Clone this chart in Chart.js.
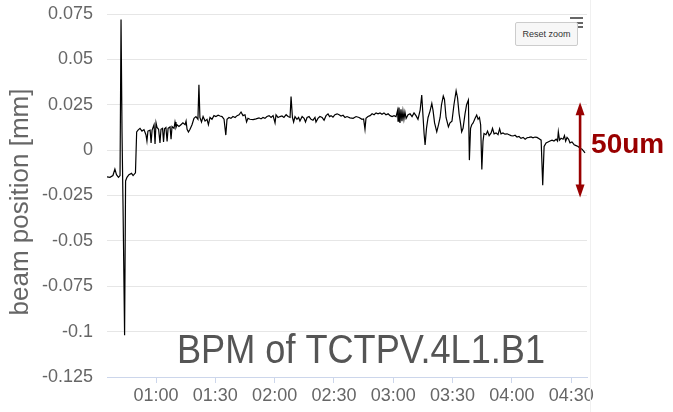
<!DOCTYPE html>
<html><head><meta charset="utf-8">
<script src="https://cdn.jsdelivr.net/npm/chart.js@4"></script>
<style>
html,body{margin:0;padding:0;background:#fff;}
#wrap{position:relative;width:673px;height:412px;}
#vline{position:absolute;left:590px;top:0;width:1px;height:412px;background:#f0f0f0;}
#menu{position:absolute;left:570px;top:17px;width:13px;height:12px;}
#menu span{position:absolute;left:0;width:13px;height:2px;background:#666;}
#btn{position:absolute;left:515px;top:22px;width:63px;height:24px;box-sizing:border-box;background:#f7f7f7;border:1px solid #cccccc;border-radius:2px;font:9px "Liberation Sans",Arial,sans-serif;color:#333;text-align:center;line-height:22px;}
</style></head>
<body>
<div id="wrap">
<canvas id="c"></canvas>
<div id="vline"></div>
<div id="menu"><span style="top:0"></span><span style="top:4.5px"></span><span style="top:9px"></span></div>
<div id="btn">Reset zoom</div>
</div>
<script>
const times = [35.2,36.7,38.2,39.2,40.0,41.0,41.8,42.3,42.8,43.3,44.1,44.6,45.3,46.3,47.6,48.4,49.6,50.2,50.9,51.9,52.9,53.9,54.9,55.4,55.9,57.0,57.5,58.0,59.0,59.5,60.0,60.5,61.3,62.0,62.5,63.3,63.8,64.3,65.0,65.6,66.1,67.1,67.6,68.1,69.1,69.6,70.1,70.6,71.6,72.6,73.6,74.7,75.2,75.7,76.4,77.2,78.2,79.2,80.2,81.2,81.7,82.2,83.0,83.8,84.8,85.8,86.5,87.3,88.3,89.3,90.3,91.4,92.4,93.4,94.4,95.3,95.9,96.9,97.9,98.9,100.0,101.0,102.0,103.0,104.0,105.0,105.8,106.5,107.5,109.1,110.6,112.1,113.1,114.1,115.1,116.1,117.2,118.2,119.2,120.2,120.7,121.7,122.7,123.7,124.7,125.8,126.8,127.8,128.3,129.0,129.6,130.3,131.3,132.1,132.8,133.9,134.9,135.6,136.4,137.4,138.4,139.4,140.4,140.9,141.9,142.9,144.0,145.0,146.0,147.0,147.8,148.5,149.5,150.5,151.6,152.6,153.6,154.6,155.6,156.6,158.1,159.7,161.2,162.7,164.2,165.0,165.7,166.2,167.2,168.3,169.3,170.3,171.3,172.3,173.3,174.3,175.3,176.3,177.4,178.4,179.4,180.4,181.4,182.2,182.4,182.9,183.4,183.9,184.4,184.9,185.4,185.9,186.5,187.5,188.5,189.5,190.5,191.5,192.5,193.6,194.4,195.1,195.6,196.1,196.8,197.6,198.6,199.5,200.1,200.9,202.0,202.9,203.7,204.4,205.3,205.9,206.7,207.9,208.7,209.7,210.7,211.8,212.5,213.3,214.0,214.6,215.3,216.3,217.1,218.0,218.5,219.1,219.7,220.4,221.4,222.2,222.9,223.6,224.2,224.8,225.4,225.9,226.9,227.7,228.5,229.5,230.2,231.0,232.0,233.0,233.8,234.5,235.5,236.5,237.6,238.6,239.6,240.6,241.6,242.6,243.6,244.6,245.7,246.7,247.7,248.7,249.7,250.7,251.7,252.7,253.8,254.8,255.6,256.3,257.3,258.3,259.3,260.3,261.3,262.4,263.1,263.5,264.1,264.9,265.9,266.6,267.2,267.9,268.7,269.4,270.4,271.5,272.5,273.5,274.5,275.5,277.0];
const positions = [-0.0147,-0.0150,-0.0140,-0.0105,-0.0135,-0.0150,-0.0140,0.0720,0.0100,-0.0300,-0.1020,-0.0170,-0.0150,-0.0135,-0.0128,-0.0140,-0.0125,0.0100,0.0110,0.0120,0.0105,0.0113,0.0085,0.0050,0.0105,0.0110,0.0040,0.0110,0.0140,0.0034,0.0150,0.0125,0.0115,0.0040,0.0115,0.0120,0.0045,0.0118,0.0125,0.0048,0.0120,0.0128,0.0060,0.0130,0.0120,0.0155,0.0125,0.0140,0.0130,0.0140,0.0150,0.0140,0.0160,0.0115,0.0100,0.0115,0.0140,0.0175,0.0185,0.0170,0.0360,0.0180,0.0155,0.0185,0.0160,0.0170,0.0140,0.0180,0.0170,0.0190,0.0185,0.0192,0.0188,0.0185,0.0170,0.0083,0.0170,0.0180,0.0175,0.0185,0.0180,0.0190,0.0195,0.0210,0.0190,0.0195,0.0155,0.0175,0.0170,0.0168,0.0172,0.0178,0.0172,0.0180,0.0175,0.0185,0.0190,0.0180,0.0190,0.0150,0.0195,0.0180,0.0185,0.0188,0.0180,0.0195,0.0185,0.0180,0.0295,0.0180,0.0155,0.0185,0.0170,0.0180,0.0160,0.0185,0.0175,0.0155,0.0180,0.0185,0.0170,0.0165,0.0180,0.0155,0.0175,0.0185,0.0180,0.0165,0.0190,0.0200,0.0185,0.0190,0.0182,0.0195,0.0200,0.0195,0.0188,0.0192,0.0180,0.0185,0.0178,0.0175,0.0185,0.0180,0.0170,0.0172,0.0115,0.0175,0.0185,0.0190,0.0200,0.0195,0.0205,0.0200,0.0205,0.0198,0.0205,0.0195,0.0200,0.0190,0.0185,0.0190,0.0185,0.0220,0.0160,0.0235,0.0150,0.0225,0.0160,0.0215,0.0170,0.0210,0.0175,0.0195,0.0200,0.0185,0.0205,0.0190,0.0170,0.0220,0.0303,0.0180,0.0090,0.0028,0.0120,0.0180,0.0215,0.0257,0.0220,0.0150,0.0101,0.0140,0.0180,0.0250,0.0298,0.0280,0.0180,0.0128,0.0150,0.0160,0.0250,0.0327,0.0290,0.0200,0.0150,0.0101,0.0120,0.0200,0.0250,0.0276,-0.0055,0.0120,0.0140,0.0150,0.0175,0.0193,0.0170,0.0180,0.0140,-0.0106,0.0050,0.0092,0.0085,0.0105,0.0080,0.0095,0.0120,0.0090,0.0095,0.0085,0.0118,0.0090,0.0095,0.0088,0.0090,0.0085,0.0080,0.0078,0.0082,0.0072,0.0075,0.0065,0.0070,0.0060,0.0068,0.0070,0.0073,0.0068,0.0072,0.0070,0.0062,0.0055,-0.0193,0.0020,0.0040,0.0045,0.0050,0.0055,0.0050,0.0060,0.0050,0.0101,0.0055,0.0065,0.0060,0.0080,0.0050,0.0070,0.0060,0.0040,0.0045,0.0030,0.0025,0.0020,0.0010,0.0005,-0.0015];
const tickMinutes = [60,90,120,150,180,210,240,270];
const tickLabels = ['01:00','01:30','02:00','02:30','03:00','03:30','04:00','04:30'];
const yTickValues = [0.075,0.05,0.025,0,-0.025,-0.05,-0.075,-0.1,-0.125];
const yTickLabels = ['0.075','0.05','0.025','0','-0.025','-0.05','-0.075','-0.1','-0.125'];
const xRange = [35.2, 278];
const yRange = [-0.125, 0.075];
const arrowRange = [0.025, -0.025];
const arrowTime = 274.5;
const arrowLabel = '50um';
const chartTitle = 'BPM of TCTPV.4L1.B1';
const yAxisTitle = 'beam position [mm]';

const FONT = '"Liberation Sans", Arial, sans-serif';

const overlay = {
  id: 'overlay',
  afterDraw(chart) {
    const ctx = chart.ctx, xs = chart.scales.x, ys = chart.scales.y;
    ctx.save();
    // arrow
    const ax = xs.getPixelForValue(arrowTime);
    const yT = ys.getPixelForValue(arrowRange[0]);
    const yB = ys.getPixelForValue(arrowRange[1]);
    ctx.strokeStyle = '#990000';
    ctx.fillStyle = '#990000';
    ctx.lineWidth = 2.6;
    ctx.beginPath(); ctx.moveTo(ax, yT + 8); ctx.lineTo(ax, yB - 8); ctx.stroke();
    ctx.beginPath(); ctx.moveTo(ax, yT - 2.5); ctx.lineTo(ax - 4.5, yT + 10.5); ctx.lineTo(ax + 4.5, yT + 10.5); ctx.closePath(); ctx.fill();
    ctx.beginPath(); ctx.moveTo(ax, yB + 2); ctx.lineTo(ax - 4.5, yB - 11); ctx.lineTo(ax + 4.5, yB - 11); ctx.closePath(); ctx.fill();
    // 50um
    ctx.font = 'bold 28px ' + FONT;
    ctx.textAlign = 'left';
    ctx.textBaseline = 'alphabetic';
    ctx.fillText(arrowLabel, ax + 11, (yT + yB) / 2 + 3);
    // big title
    ctx.fillStyle = '#555555';
    ctx.font = '41px ' + FONT;
    const w = ctx.measureText(chartTitle).width;
    const sx = 368 / w;
    ctx.save();
    ctx.translate(361, 363);
    ctx.scale(sx, 1);
    ctx.textAlign = 'center';
    ctx.fillText(chartTitle, 0, 0);
    ctx.restore();
    // y axis title
    ctx.fillStyle = '#666666';
    ctx.font = '26px ' + FONT;
    ctx.translate(21, 202);
    ctx.rotate(-Math.PI / 2);
    ctx.textAlign = 'center';
    ctx.textBaseline = 'middle';
    ctx.fillText(yAxisTitle, 0, 0);
    ctx.restore();
  }
};

new Chart(document.getElementById('c'), {
  type: 'line',
  data: {
    datasets: [{
      data: times.map((t, i) => ({ x: t, y: positions[i] })),
      borderColor: '#000000',
      borderWidth: 1.2,
      pointRadius: 0,
      tension: 0,
      fill: false
    }]
  },
  options: {
    responsive: true,
    maintainAspectRatio: false,
    animation: false,
    layout: { padding: { top: 14, right: 86, left: 0, bottom: 0 } },
    plugins: { legend: { display: false }, tooltip: { enabled: false }, title: { display: false } },
    scales: {
      x: {
        type: 'linear',
        min: xRange[0], max: xRange[1],
        afterBuildTicks: s => { s.ticks = tickMinutes.map(v => ({ value: v })); },
        afterFit: s => { s.height = 35; },
        grid: { drawOnChartArea: false, drawTicks: true, tickLength: 6, color: '#ccd6eb' },
        border: { display: true, color: '#ccd6eb' },
        ticks: {
          autoSkip: false, maxRotation: 0, padding: 2,
          font: { size: 18, family: FONT }, color: '#666666',
          callback: (v, i) => tickLabels[i]
        }
      },
      y: {
        min: yRange[0], max: yRange[1],
        afterBuildTicks: s => { s.ticks = yTickValues.map(v => ({ value: v })); },
        afterFit: s => { s.width = 107; },
        grid: { color: '#e6e6e6', drawTicks: true, tickLength: 12, tickColor: 'rgba(0,0,0,0)' },
        border: { display: false },
        ticks: {
          padding: 2,
          font: { size: 18, family: FONT }, color: '#666666',
          callback: (v, i) => yTickLabels[i]
        }
      }
    }
  },
  plugins: [overlay]
});
</script>
</body></html>
